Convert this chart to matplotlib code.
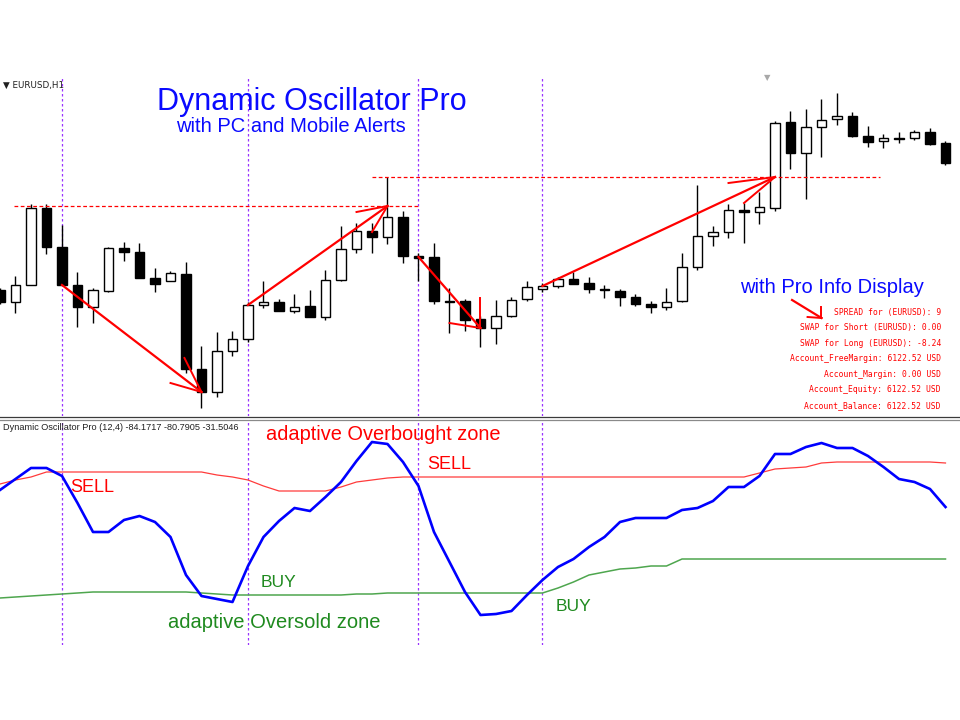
import matplotlib
matplotlib.use("Agg")
import matplotlib.pyplot as plt
from matplotlib.lines import Line2D

# EURUSD H1 candles, chart points (one entry per bar)
opens  = [130, 118, 135, 212, 173, 135, 113, 129, 172, 168,
          142, 139, 146, 51, 28, 69, 81, 115, 118, 109,
          114, 103, 140, 171, 189, 183, 203, 164, 163, 119,
          119, 101, 92, 104, 121, 131, 134, 141, 137, 131,
          129, 123, 116, 113, 119, 153, 184, 188, 210, 208,
          212, 298, 267, 293, 301, 304, 284, 279, 282, 282,
          288, 277]
highs  = [132, 144, 216, 216, 195, 148, 132, 173, 178, 177,
          152, 149, 158, 74, 88, 89, 118, 139, 121, 126,
          130, 150, 194, 197, 197, 243, 209, 167, 177, 132,
          121, 104, 120, 123, 139, 137, 143, 148, 143, 135,
          131, 126, 119, 132, 167, 235, 194, 216, 217, 228,
          299, 309, 311, 321, 327, 308, 294, 286, 288, 290,
          292, 279]
lows   = [116, 107, 135, 166, 135, 93, 97, 128, 159, 142,
          128, 139, 47, 12, 23, 64, 78, 112, 109, 107,
          103, 100, 139, 167, 167, 176, 157, 139, 116, 87,
          89, 73, 76, 103, 119, 128, 132, 136, 127, 122,
          114, 114, 107, 110, 118, 150, 174, 182, 177, 196,
          209, 251, 221, 263, 295, 283, 273, 272, 277, 280,
          275, 255]
closes = [118, 135, 212, 173, 135, 113, 130, 172, 168, 142,
          136, 147, 51, 28, 69, 81, 115, 118, 109, 113,
          103, 140, 171, 189, 183, 203, 164, 162, 119, 118,
          100, 92, 104, 120, 133, 134, 141, 136, 131, 130,
          123, 116, 113, 118, 153, 184, 188, 210, 208, 213,
          297, 267, 293, 300, 304, 284, 278, 282, 281, 288,
          276, 257]

# Dynamic Oscillator Pro (12,4): main line and adaptive zones
osc_main = [155, 166, 177, 177, 169, 142, 113, 113, 125, 129,
            123, 108, 70, 49, 46, 43, 79, 108, 124, 137,
            134, 148, 163, 184, 203, 201, 183, 159, 113, 83,
            53, 30, 31, 34, 50, 65, 78, 86, 98, 108,
            123, 127, 127, 127, 135, 137, 144, 158, 158, 169,
            191, 191, 198, 202, 197, 197, 189, 178, 166, 163,
            156, 138]
overbought = [161, 165, 168, 173, 173, 173, 173, 173, 173, 173,
              173, 173, 173, 173, 170, 168, 165, 159, 154, 154,
              154, 154, 158, 163, 165, 167, 168, 168, 168, 168,
              168, 168, 168, 168, 168, 168, 168, 168, 168, 168,
              168, 168, 168, 168, 168, 168, 168, 168, 168, 172,
              176, 177, 178, 182, 183, 183, 183, 183, 183, 183,
              183, 182]
oversold = [47, 48, 49, 50, 51, 52, 53, 53, 53, 53,
            53, 53, 53, 52, 51, 50, 50, 50, 50, 50,
            50, 50, 50, 51, 51, 52, 52, 52, 52, 52,
            52, 52, 52, 52, 52, 52, 57, 63, 70, 73,
            76, 77, 79, 79, 86, 86, 86, 86, 86, 86,
            86, 86, 86, 86, 86, 86, 86, 86, 86, 86,
            86, 86]

# signal bars (purple separators)
signal_bars = [4, 16, 27, 35]

# hand-drawn red arrows: start, tip and the two head strokes (bar, price)
arrow_start = [(4, 135), (16, 115), (27, 163), (35, 134), (51.1, 120)]
arrow_tip   = [(13, 28), (25, 214), (31, 92), (50, 243), (53, 102)]
arrow_wing1 = [(11.9, 62), (23, 208), (31, 122), (47, 237), (52.1, 103)]
arrow_wing2 = [(11, 37), (24, 188), (29, 97), (48, 217), (53, 113)]

# red dotted resistance levels: price, first bar, last bar
level_price = [214, 243]
level_from = [0.9, 24]
level_to = [27, 56.8]

info_lines = ["SPREAD for (EURUSD): 9",
              "SWAP for Short (EURUSD): 0.00",
              "SWAP for Long (EURUSD): -8.24",
              "Account_FreeMargin: 6122.52 USD",
              "Account_Margin: 0.00 USD",
              "Account_Equity: 6122.52 USD",
              "Account_Balance: 6122.52 USD"]

W, H = 960, 720
fig = plt.figure(figsize=(9.6, 7.2), dpi=100)

def fx(x):
    return x / W

def fy(y):
    return 1 - y / H

bar_px = 15.5
xmax = W / bar_px

ax = fig.add_axes([0, fy(416), 1, (416 - 76) / H])
osc = fig.add_axes([0, fy(645), 1, (645 - 420) / H])
for a in (ax, osc):
    a.set_xlim(0, xmax)
    a.axis("off")
ax.set_ylim(4, 344)
osc.set_ylim(0, 225)

# candles
n = len(opens)
idx = list(range(n))
ax.vlines(idx, lows, highs, color="black", lw=1.0, zorder=2)
bottoms = [min(o, c) for o, c in zip(opens, closes)]
heights = [max(abs(c - o), 0.8) for o, c in zip(opens, closes)]
colors = ["white" if c > o else "black" for o, c in zip(opens, closes)]
ax.bar(idx, heights, bottom=bottoms, width=0.6, color=colors,
       edgecolor="black", linewidth=1.0, zorder=3)

# separators
for b in signal_bars:
    ax.axvline(b, color="#9933ff", lw=0.9, ls=(0, (2, 2)), zorder=1)
    osc.axvline(b, color="#9933ff", lw=0.9, ls=(0, (2, 2)), zorder=1)

for p, a0, a1 in zip(level_price, level_from, level_to):
    ax.plot([a0, a1], [p, p], color="red", lw=0.9, ls=(0, (3, 2)), zorder=4)

for s, t, w1, w2 in zip(arrow_start, arrow_tip, arrow_wing1, arrow_wing2):
    ax.plot([s[0], t[0]], [s[1], t[1]], color="red", lw=1.6, zorder=5)
    ax.plot([w1[0], t[0]], [w1[1], t[1]], color="red", lw=1.4, zorder=5)
    ax.plot([w2[0], t[0]], [w2[1], t[1]], color="red", lw=1.4, zorder=5)

# oscillator
osc.plot(idx, overbought, color="#ff3b3b", lw=0.9, zorder=3)
osc.plot(idx, oversold, color="#4ea64e", lw=1.1, zorder=3)
osc.plot(idx, osc_main, color="#0000ff", lw=1.9, zorder=4)

# panel separator (double line)
fig.add_artist(Line2D([0, 1], [fy(416.5), fy(416.5)], color="#3a3a3a", lw=0.9))
fig.add_artist(Line2D([0, 1], [fy(419.5), fy(419.5)], color="#8a8a8a", lw=0.9))

sans = "Liberation Sans"
blue = "#0a0aff"
fig.text(fx(157), fy(110), "Dynamic Oscillator Pro", color=blue, fontsize=22,
         family=sans, va="baseline")
fig.text(fx(176), fy(132.5), "with PC and Mobile Alerts", color=blue, fontsize=14.5,
         family=sans, va="baseline")
fig.text(fx(740), fy(293), "with Pro Info Display", color=blue, fontsize=14.5,
         family=sans, va="baseline")

fig.text(fx(3), fy(85), "\u25bc EURUSD,H1", color="#202020", fontsize=6.3,
         family="DejaVu Sans", va="center")
fig.text(fx(767), fy(78), "\u25bc", color="#a8a8a8", fontsize=6,
         family="DejaVu Sans", ha="center", va="center")

info_y = [312, 327.7, 343.3, 358.7, 374.3, 390, 405.3]
for yy, line in zip(info_y, info_lines):
    fig.text(fx(941), fy(yy), line, color="red", fontsize=5.8,
             family="DejaVu Sans Mono", ha="right", va="center")

fig.text(fx(3), fy(427), "Dynamic Oscillator Pro (12,4) -84.1717 -80.7905 -31.5046",
         color="#202020", fontsize=6.6, family=sans, va="center")

fig.text(fx(266), fy(440), "adaptive Overbought zone", color="red", fontsize=14.4,
         family=sans, va="baseline")
fig.text(fx(168), fy(628), "adaptive Oversold zone", color="#1f8a1f", fontsize=14.5,
         family=sans, va="baseline")
fig.text(fx(70), fy(492), "SELL", color="red", fontsize=13, family=sans, va="baseline")
fig.text(fx(427), fy(469), "SELL", color="red", fontsize=13, family=sans, va="baseline")
fig.text(fx(261), fy(587), "BUY", color="#1f8a1f", fontsize=12.5, family=sans, va="baseline")
fig.text(fx(556), fy(611), "BUY", color="#1f8a1f", fontsize=12.5, family=sans, va="baseline")

fig.savefig("out.png", dpi=100, facecolor="white")
